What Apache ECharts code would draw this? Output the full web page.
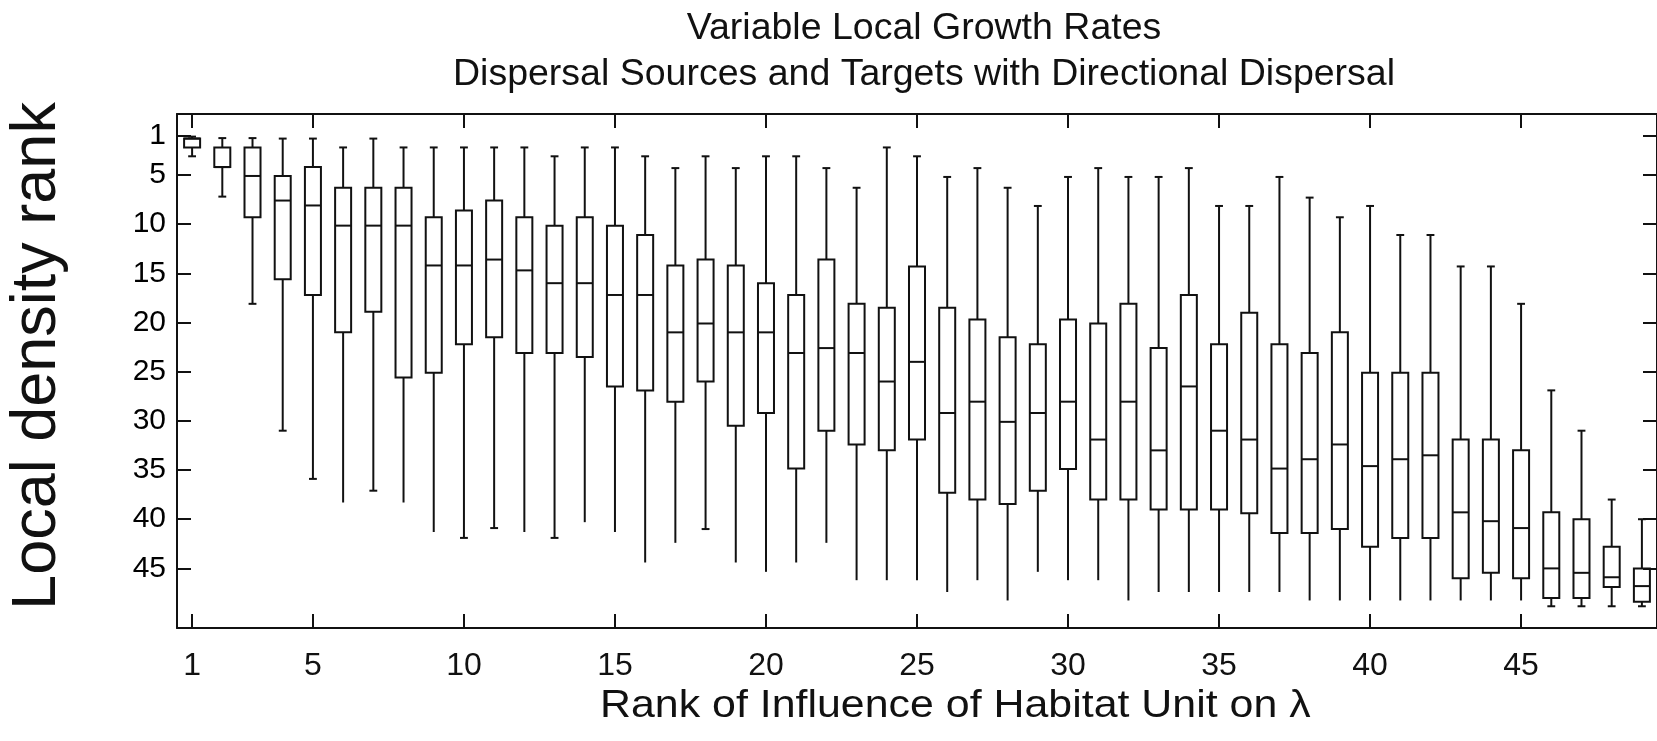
<!DOCTYPE html>
<html>
<head>
<meta charset="utf-8">
<script src="https://cdn.jsdelivr.net/npm/echarts@6/dist/echarts.min.js"></script>
<style>
html,body{margin:0;padding:0;background:#fff;overflow:hidden;}
#chart{width:1657px;height:741px;}
</style>
</head>
<body>
<div id="chart"></div>
<script>
// ---- data ----
const categories = Array.from({length: 49}, (_, i) => String(i + 1));
const xTickLabels = [1, 5, 10, 15, 20, 25, 30, 35, 40, 45];
const yTickLabels = [1, 5, 10, 15, 20, 25, 30, 35, 40, 45];
// whisker end (smallest rank), box top (q1), median, box bottom (q3), whisker end (largest rank)
const whiskerTop = [1.1,1.25,1.25,1.3,1.3,2.2,1.3,2.2,2.2,2.2,2.2,2.2,3.1,2.2,2.2,3.1,4.3,3.1,4.3,3.1,3.1,4.3,6.3,2.2,3.1,5.2,4.3,6.3,8.15,5.2,4.3,5.2,5.2,4.3,8.15,8.15,5.2,7.3,9.3,8.15,11.1,11.1,14.3,14.3,18.1,26.9,31.0,38.0,40.0];
const q1 = [1.3,2.2,2.2,5.1,4.2,6.3,6.3,6.3,9.3,8.6,7.6,9.3,10.15,9.3,10.15,11.1,14.2,13.6,14.2,16.0,17.2,13.6,18.1,18.5,14.3,18.5,19.7,21.5,22.2,19.7,20.1,18.1,22.6,17.2,22.2,19.0,22.2,23.1,21.0,25.1,25.1,25.1,31.9,31.9,33.0,39.3,40.0,42.8,45.0];
const medians = [1.3,4.2,5.1,7.6,8.1,10.15,10.15,10.15,14.2,14.2,13.6,14.7,16.0,16.0,17.2,17.2,21.0,20.1,21.0,21.0,23.1,22.6,23.1,26.0,24.0,29.2,28.05,30.1,29.2,28.05,31.9,28.05,33.0,26.5,31.0,31.9,34.85,33.9,32.4,34.6,33.9,33.5,39.3,40.2,40.9,45.0,45.45,45.9,46.8];
const q3 = [2.2,4.2,9.3,15.6,17.2,21.0,18.9,25.6,25.1,22.2,21.5,23.1,23.1,23.5,26.5,26.9,28.05,26.0,30.5,29.2,34.85,31.0,32.4,33.0,31.9,37.3,38.0,38.45,37.1,34.9,38.0,38.0,39.0,39.0,39.0,39.4,41.4,41.4,41.0,42.8,41.9,41.9,46.0,45.45,46.0,48.0,48.0,46.9,48.4];
const whiskerBottom = [3.1,7.2,18.1,31.0,35.9,38.3,37.1,38.3,41.3,41.9,40.9,41.3,41.9,40.3,41.3,44.4,42.4,41.0,44.4,45.35,44.4,42.4,46.2,46.2,46.2,47.4,46.2,48.26,45.35,46.2,46.2,48.26,47.4,47.4,47.4,47.4,47.4,48.26,48.26,48.26,48.26,48.26,48.26,48.26,48.26,48.85,48.85,48.85,48.85];
// groups whose lower whisker cap is visible in the reference
const lowerCapVisible = [1,2,3,4,5,7,10,11,13,18,46,47,48,49];

const seriesData = categories.map((c, i) => [i, whiskerTop[i], q1[i], medians[i], q3[i], whiskerBottom[i], lowerCapVisible.includes(i + 1) ? 1 : 0]);

const INK = '#111';
const chart = echarts.init(document.getElementById('chart'), null, {renderer: 'canvas'});

function renderBox(params, api) {
  const i = api.value(0);
  const pTop = api.coord([i, api.value(1)]);
  const pQ1 = api.coord([i, api.value(2)]);
  const pMed = api.coord([i, api.value(3)]);
  const pQ3 = api.coord([i, api.value(4)]);
  const pBot = api.coord([i, api.value(5)]);
  const band = api.size([1, 0])[0];
  const hw = band * 0.265;
  const cw = band * 0.13;
  const x = pQ1[0];
  const st = {stroke: INK, lineWidth: 2, fill: null};
  const children = [
    {type: 'line', shape: {x1: x, y1: pQ1[1], x2: x, y2: pTop[1]}, style: st},
    {type: 'line', shape: {x1: x - cw, y1: pTop[1], x2: x + cw, y2: pTop[1]}, style: st},
    {type: 'line', shape: {x1: x, y1: pQ3[1], x2: x, y2: pBot[1]}, style: st},
    {type: 'rect', shape: {x: x - hw, y: pQ1[1], width: 2 * hw, height: pQ3[1] - pQ1[1]}, style: {stroke: INK, lineWidth: 2, fill: 'rgba(0,0,0,0)'}},
    {type: 'line', shape: {x1: x - hw, y1: pMed[1], x2: x + hw, y2: pMed[1]}, style: st}
  ];
  if (api.value(6) === 1) {
    children.push({type: 'line', shape: {x1: x - cw, y1: pBot[1], x2: x + cw, y2: pBot[1]}, style: st});
  }
  return {type: 'group', children};
}

const tickIdx = (idx) => xTickLabels.includes(idx + 1);
const FONT = "'Liberation Sans', Arial, sans-serif";

const axisLineStyle = {show: true, onZero: false, lineStyle: {color: INK, width: 2}};

const option = {
  animation: false,
  backgroundColor: '#fff',
  title: {
    text: 'Variable Local Growth Rates\nDispersal Sources and Targets with Directional Dispersal',
    left: 919,
    textAlign: 'center',
    top: 1,
    textStyle: {fontFamily: FONT, fontSize: 37.5, fontWeight: 'normal', color: INK, lineHeight: 46}
  },
  grid: {left: 177, top: 114, width: 1490, height: 514, containLabel: false},
  xAxis: [
    {
      type: 'category', data: categories, position: 'bottom', boundaryGap: true,
      axisLine: axisLineStyle,
      axisTick: {show: true, inside: true, length: 14, alignWithLabel: true, interval: tickIdx, lineStyle: {color: INK, width: 2}},
      axisLabel: {show: true, interval: tickIdx, margin: 22, fontFamily: FONT, fontSize: 32, color: INK},
      splitLine: {show: false}
    },
    {
      type: 'category', data: categories, position: 'top', boundaryGap: true,
      axisLine: axisLineStyle,
      axisTick: {show: true, inside: true, length: 14, alignWithLabel: true, interval: tickIdx, lineStyle: {color: INK, width: 2}},
      axisLabel: {show: false},
      splitLine: {show: false}
    }
  ],
  yAxis: [
    {
      type: 'value', inverse: true, min: -1.2, max: 51.06, position: 'left',
      axisLine: axisLineStyle,
      axisTick: {show: true, inside: true, length: 14, customValues: yTickLabels, lineStyle: {color: INK, width: 2}},
      axisLabel: {show: true, customValues: yTickLabels, margin: 11, fontFamily: FONT, fontSize: 30, color: '#000'},
      splitLine: {show: false}
    },
    {
      type: 'value', inverse: true, min: -1.2, max: 51.06, position: 'right',
      axisLine: axisLineStyle,
      axisTick: {show: true, inside: true, length: 14, customValues: yTickLabels, lineStyle: {color: INK, width: 2}},
      axisLabel: {show: false},
      splitLine: {show: false}
    }
  ],
  graphic: [
    {type: 'text', x: 38, y: 356, rotation: Math.PI / 2,
     style: {text: 'Local density rank', font: "63px 'Liberation Sans', Arial, sans-serif", fill: INK, textAlign: 'center', textVerticalAlign: 'middle'}},
    {type: 'text', x: 600, y: 706, scaleX: 1.1,
     style: {text: 'Rank of Influence of Habitat Unit on λ', font: "39px 'Liberation Sans', Arial, sans-serif", fill: INK, textAlign: 'left', textVerticalAlign: 'middle'}}
  ],
  series: [{
    type: 'custom',
    xAxisIndex: 0, yAxisIndex: 0,
    renderItem: renderBox,
    encode: {x: 0, y: [1, 2, 3, 4, 5]},
    data: seriesData,
    clip: false
  }]
};
chart.setOption(option);
</script>
</body>
</html>
